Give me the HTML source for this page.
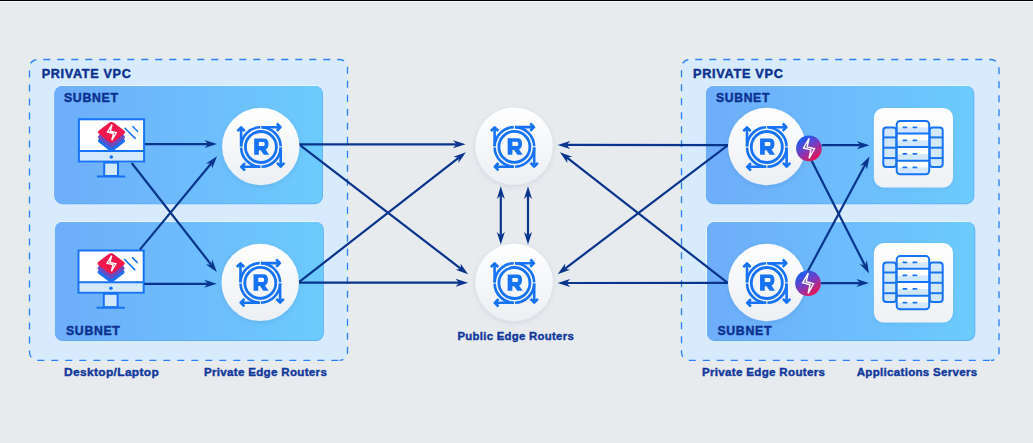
<!DOCTYPE html>
<html><head><meta charset="utf-8"><title>Network diagram</title>
<style>html,body{margin:0;padding:0;width:1033px;height:443px;overflow:hidden;background:#e7ebee;font-family:"Liberation Sans",sans-serif;}</style>
</head><body>
<svg width="1033" height="443" viewBox="0 0 1033 443" style="display:block">
<defs>
<linearGradient id="sg" x1="0" y1="0" x2="1" y2="0"><stop offset="0" stop-color="#6eadfa"/><stop offset="1" stop-color="#6ccbfd"/></linearGradient>
<linearGradient id="rg" x1="0" y1="0" x2="0" y2="1"><stop offset="0" stop-color="#ffffff"/><stop offset="1" stop-color="#eceff3"/></linearGradient>
<linearGradient id="cg" x1="0" y1="0" x2="0" y2="1"><stop offset="0" stop-color="#ffffff"/><stop offset="1" stop-color="#eef1f5"/></linearGradient>
<linearGradient id="bg" x1="0.2" y1="0.05" x2="0.8" y2="0.95"><stop offset="0" stop-color="#0e60f8"/><stop offset="0.5" stop-color="#7b3bbd"/><stop offset="1" stop-color="#f4104a"/></linearGradient>
<filter id="sh" x="-30%" y="-30%" width="160%" height="160%"><feDropShadow dx="0" dy="1.5" stdDeviation="2.5" flood-color="#1d3b66" flood-opacity="0.10"/></filter>
<filter id="sh2" x="-30%" y="-30%" width="160%" height="160%"><feDropShadow dx="0" dy="1" stdDeviation="2" flood-color="#1d3b66" flood-opacity="0.08"/></filter>
<g id="ricon">
<path d="M0.6,-19.79 A19.8,19.8 0 0 1 19.79,-0.6 M19.79,0.6 A19.8,19.8 0 0 1 0.6,19.79 M-0.6,19.79 A19.8,19.8 0 0 1 -19.79,0.6 M-19.79,-0.6 A19.8,19.8 0 0 1 -0.6,-19.79" fill="none" stroke="#1673f5" stroke-width="2.6"/>
<circle cx="0" cy="0" r="15.5" fill="none" stroke="#1673f5" stroke-width="2.8"/>
<g stroke="#1673f5" stroke-width="2.6" fill="none" stroke-linejoin="round" stroke-linecap="butt">
<path d="M-19.8,-0.6 V-19.8 M-23.5,-15.9 L-19.8,-19.6 L-16.1,-15.9"/>
<path d="M0.6,-19.8 H19.8 M15.9,-23.5 L19.6,-19.8 L15.9,-16.1"/>
<path d="M19.8,0.6 V19.8 M23.5,15.9 L19.8,19.6 L16.1,15.9"/>
<path d="M-0.6,19.8 H-19.8 M-15.9,23.5 L-19.6,19.8 L-15.9,16.1"/>
</g>
<path fill="#1673f5" fill-rule="evenodd" d="M-6.74,-8.6 L2.95,-8.6 Q7.64,-8.6 7.64,-3.32 Q7.64,1.08 4.7,2.55 L8.23,7.83 L2.95,7.83 L-0.28,3.14 L-2.04,3.14 L-2.04,7.83 L-6.74,7.83 Z M-2.04,-5.08 L2.65,-5.08 Q3.83,-5.08 3.83,-3.02 Q3.83,-0.97 2.65,-0.97 L-2.04,-0.97 Z"/>
</g>
</defs>
<rect width="1033" height="443" fill="#e7ebee"/>
<rect x="0" y="0" width="1033" height="1" fill="#000"/>
<rect x="0" y="1" width="1033" height="1" fill="#f5f9fc"/>
<rect x="29.5" y="59.5" width="318" height="300.8" rx="8" fill="#d8ebfe"/>
<path d="M29.5,67.5 A8,8 0 0 1 37.5,59.5 H339.5 A8,8 0 0 1 347.5,67.5 V352.3 A8,8 0 0 1 339.5,360.3" fill="none" stroke="#2a80f4" stroke-width="1.35" stroke-dasharray="7 7" stroke-dashoffset="9.73"/>
<path d="M339.5,360.3 H37.5 A8,8 0 0 1 29.5,352.3 V67.5" fill="none" stroke="#2a80f4" stroke-width="1.35" stroke-dasharray="7 7" stroke-dashoffset="12.8"/>
<rect x="681.5" y="59.5" width="317.5" height="300.9" rx="8" fill="#d8ebfe"/>
<path d="M681.5,67.5 A8,8 0 0 1 689.5,59.5 H991 A8,8 0 0 1 999,67.5 V352.4 A8,8 0 0 1 991,360.4" fill="none" stroke="#2a80f4" stroke-width="1.35" stroke-dasharray="7 7" stroke-dashoffset="9.73"/>
<path d="M991,360.4 H689.5 A8,8 0 0 1 681.5,352.4 V67.5" fill="none" stroke="#2a80f4" stroke-width="1.35" stroke-dasharray="7 7" stroke-dashoffset="12.8"/>
<rect x="53.7" y="85.2" width="268.5" height="118.3" rx="8.5" fill="#f2f8ff" opacity="0.9"/>
<rect x="54.4" y="85.9" width="268.5" height="118.3" rx="8" fill="#5aa6f4"/>
<rect x="54.4" y="85.9" width="267.8" height="117.6" rx="7.6" fill="url(#sg)"/>
<rect x="54.2" y="221.2" width="268.9" height="119.1" rx="8.5" fill="#f2f8ff" opacity="0.9"/>
<rect x="54.9" y="221.9" width="268.9" height="119.1" rx="8" fill="#5aa6f4"/>
<rect x="54.9" y="221.9" width="268.2" height="118.4" rx="7.6" fill="url(#sg)"/>
<rect x="705.2" y="85.2" width="268.4" height="118.3" rx="8.5" fill="#f2f8ff" opacity="0.9"/>
<rect x="705.9" y="85.9" width="268.4" height="118.3" rx="8" fill="#5aa6f4"/>
<rect x="705.9" y="85.9" width="267.7" height="117.6" rx="7.6" fill="url(#sg)"/>
<rect x="706.3" y="221.2" width="268.3" height="119.1" rx="8.5" fill="#f2f8ff" opacity="0.9"/>
<rect x="707" y="221.9" width="268.3" height="119.1" rx="8" fill="#5aa6f4"/>
<rect x="707" y="221.9" width="267.6" height="118.4" rx="7.6" fill="url(#sg)"/>

<g font-family="Liberation Sans, sans-serif">
<text letter-spacing="0.7" x="41.7" y="78.1" font-size="12.6" fill="#0b3190" stroke="#0b3190" stroke-width="0.45" font-weight="bold" textLength="89.8" lengthAdjust="spacingAndGlyphs">PRIVATE VPC</text>
<text letter-spacing="0.7" x="64" y="101.5" font-size="12.6" fill="#0b3190" stroke="#0b3190" stroke-width="0.45" font-weight="bold" textLength="54.6" lengthAdjust="spacingAndGlyphs">SUBNET</text>
<text letter-spacing="0.7" x="66" y="335.2" font-size="12.6" fill="#0b3190" stroke="#0b3190" stroke-width="0.45" font-weight="bold" textLength="54.5" lengthAdjust="spacingAndGlyphs">SUBNET</text>
<text letter-spacing="0.7" x="693.1" y="78.1" font-size="12.6" fill="#0b3190" stroke="#0b3190" stroke-width="0.45" font-weight="bold" textLength="90.4" lengthAdjust="spacingAndGlyphs">PRIVATE VPC</text>
<text letter-spacing="0.7" x="716" y="101.5" font-size="12.6" fill="#0b3190" stroke="#0b3190" stroke-width="0.45" font-weight="bold" textLength="54" lengthAdjust="spacingAndGlyphs">SUBNET</text>
<text letter-spacing="0.7" x="717.4" y="335" font-size="12.6" fill="#0b3190" stroke="#0b3190" stroke-width="0.45" font-weight="bold" textLength="54.7" lengthAdjust="spacingAndGlyphs">SUBNET</text>
<text letter-spacing="0.3" x="64.1" y="375.7" font-size="11.2" fill="#11389b" stroke="#11389b" stroke-width="0.4" font-weight="bold" textLength="95" lengthAdjust="spacingAndGlyphs">Desktop/Laptop</text>
<text letter-spacing="0.3" x="203.9" y="375.9" font-size="11.2" fill="#11389b" stroke="#11389b" stroke-width="0.4" font-weight="bold" textLength="123.3" lengthAdjust="spacingAndGlyphs">Private Edge Routers</text>
<text letter-spacing="0.3" x="457.5" y="339.6" font-size="11.2" fill="#11389b" stroke="#11389b" stroke-width="0.4" font-weight="bold" textLength="116.5" lengthAdjust="spacingAndGlyphs">Public Edge Routers</text>
<text letter-spacing="0.3" x="701.9" y="375.7" font-size="11.2" fill="#11389b" stroke="#11389b" stroke-width="0.4" font-weight="bold" textLength="123.4" lengthAdjust="spacingAndGlyphs">Private Edge Routers</text>
<text letter-spacing="0.3" x="856.7" y="375.7" font-size="11.2" fill="#11389b" stroke="#11389b" stroke-width="0.4" font-weight="bold" textLength="120.9" lengthAdjust="spacingAndGlyphs">Applications Servers</text>
</g>
<g>
<rect x="78.9" y="119.3" width="65.2" height="42.3" fill="#fff"/>
<rect x="78.9" y="151" width="65.2" height="11.6" fill="#d4e8fd"/>
<g transform="translate(111.5,140.2)">
<g transform="translate(0,0.6)"><path d="M2.68,-9.35 L12.22,-2.05 Q14.9,0 12.22,2.05 L2.68,9.35 Q0,11.4 -2.68,9.35 L-12.22,2.05 Q-14.9,0 -12.22,-2.05 L-2.68,-9.35 Q0,-11.4 2.68,-9.35 Z" fill="#1b6ff0"/></g>
<g transform="translate(0,-3.2)"><path d="M2.68,-9.35 L12.22,-2.05 Q14.9,0 12.22,2.05 L2.68,9.35 Q0,11.4 -2.68,9.35 L-12.22,2.05 Q-14.9,0 -12.22,-2.05 L-2.68,-9.35 Q0,-11.4 2.68,-9.35 Z" fill="#6a4bc1"/></g>
<g transform="translate(0,-7.9)"><path d="M2.68,-9.35 L12.22,-2.05 Q14.9,0 12.22,2.05 L2.68,9.35 Q0,11.4 -2.68,9.35 L-12.22,2.05 Q-14.9,0 -12.22,-2.05 L-2.68,-9.35 Q0,-11.4 2.68,-9.35 Z" fill="#f0174c"/>
<path d="M0.3,-10.1 L-5.4,-0.4 L2.0,1.5 L0.1,10.1 L5.6,0.4 L-1.8,-1.5 Z" transform="translate(0.3,0) scale(0.8,0.77)" fill="none" stroke="#fff" stroke-width="1.8"/></g>
</g>
<rect x="78.9" y="119.3" width="65.2" height="42.3" fill="none" stroke="#1673f5" stroke-width="2"/>
<line x1="78.9" y1="151" x2="144.1" y2="151" stroke="#1673f5" stroke-width="2"/>
<circle cx="111.3" cy="157" r="1.8" fill="#1673f5"/>
<rect x="104.2" y="162.6" width="13.8" height="13.4" fill="#d4e8fd" stroke="#1673f5" stroke-width="2"/>
<line x1="96.9" y1="176.5" x2="125.3" y2="176.5" stroke="#1673f5" stroke-width="2"/>
<line x1="124.6" y1="127.8" x2="135.6" y2="138.9" stroke="#1673f5" stroke-width="1.5"/>
<line x1="132.5" y1="126.2" x2="138" y2="131.7" stroke="#1673f5" stroke-width="1.5"/>
</g>
<g>
<rect x="78.5" y="250.5" width="65.2" height="42.3" fill="#fff"/>
<rect x="78.5" y="282.2" width="65.2" height="11.6" fill="#d4e8fd"/>
<g transform="translate(111.1,271.4)">
<g transform="translate(0,0.6)"><path d="M2.68,-9.35 L12.22,-2.05 Q14.9,0 12.22,2.05 L2.68,9.35 Q0,11.4 -2.68,9.35 L-12.22,2.05 Q-14.9,0 -12.22,-2.05 L-2.68,-9.35 Q0,-11.4 2.68,-9.35 Z" fill="#1b6ff0"/></g>
<g transform="translate(0,-3.2)"><path d="M2.68,-9.35 L12.22,-2.05 Q14.9,0 12.22,2.05 L2.68,9.35 Q0,11.4 -2.68,9.35 L-12.22,2.05 Q-14.9,0 -12.22,-2.05 L-2.68,-9.35 Q0,-11.4 2.68,-9.35 Z" fill="#6a4bc1"/></g>
<g transform="translate(0,-7.9)"><path d="M2.68,-9.35 L12.22,-2.05 Q14.9,0 12.22,2.05 L2.68,9.35 Q0,11.4 -2.68,9.35 L-12.22,2.05 Q-14.9,0 -12.22,-2.05 L-2.68,-9.35 Q0,-11.4 2.68,-9.35 Z" fill="#f0174c"/>
<path d="M0.3,-10.1 L-5.4,-0.4 L2.0,1.5 L0.1,10.1 L5.6,0.4 L-1.8,-1.5 Z" transform="translate(0.3,0) scale(0.8,0.77)" fill="none" stroke="#fff" stroke-width="1.8"/></g>
</g>
<rect x="78.5" y="250.5" width="65.2" height="42.3" fill="none" stroke="#1673f5" stroke-width="2"/>
<line x1="78.5" y1="282.2" x2="143.7" y2="282.2" stroke="#1673f5" stroke-width="2"/>
<circle cx="110.9" cy="288.2" r="1.8" fill="#1673f5"/>
<rect x="103.8" y="293.8" width="13.8" height="13.4" fill="#d4e8fd" stroke="#1673f5" stroke-width="2"/>
<line x1="96.5" y1="307.7" x2="124.9" y2="307.7" stroke="#1673f5" stroke-width="2"/>
<line x1="124.2" y1="259" x2="135.2" y2="270.1" stroke="#1673f5" stroke-width="1.5"/>
<line x1="132.1" y1="257.4" x2="137.6" y2="262.9" stroke="#1673f5" stroke-width="1.5"/>
</g>
<g stroke="#09348d" stroke-width="2.2" fill="#09348d">
<line x1="145" y1="144.1" x2="208.1" y2="144.1"/>
<path stroke="none" d="M217.1,144.1 L204.5,148.1 L208.1,144.1 L204.5,140.1 Z"/>
<line x1="131.7" y1="163" x2="211.26" y2="264.81"/>
<path stroke="none" d="M216.8,271.9 L205.89,264.43 L211.26,264.81 L212.19,259.51 Z"/>
<line x1="144.3" y1="283.8" x2="207.8" y2="283.8"/>
<path stroke="none" d="M216.8,283.8 L204.2,287.8 L207.8,283.8 L204.2,279.8 Z"/>
<line x1="139.9" y1="249.6" x2="211.36" y2="163.23"/>
<path stroke="none" d="M217.1,156.3 L212.15,168.56 L211.36,163.23 L205.99,163.46 Z"/>
<line x1="299" y1="144.4" x2="456.6" y2="144.31"/>
<path stroke="none" d="M465.6,144.3 L453,148.31 L456.6,144.31 L453,140.31 Z"/>
<line x1="299" y1="144.4" x2="460.96" y2="268.82"/>
<path stroke="none" d="M468.1,274.3 L455.67,269.8 L460.96,268.82 L460.54,263.45 Z"/>
<line x1="299" y1="282.6" x2="459.1" y2="282.69"/>
<path stroke="none" d="M468.1,282.7 L455.5,286.69 L459.1,282.69 L455.5,278.69 Z"/>
<line x1="299" y1="282.1" x2="458.8" y2="157.73"/>
<path stroke="none" d="M465.9,152.2 L458.41,163.1 L458.8,157.73 L453.5,156.78 Z"/>
<line x1="728" y1="145.1" x2="566.6" y2="144.91"/>
<path stroke="none" d="M557.6,144.9 L570.2,140.91 L566.6,144.91 L570.2,148.91 Z"/>
<line x1="728" y1="145.1" x2="564.77" y2="268.86"/>
<path stroke="none" d="M557.6,274.3 L565.22,263.5 L564.77,268.86 L570.06,269.87 Z"/>
<line x1="727.7" y1="282.9" x2="566.6" y2="282.99"/>
<path stroke="none" d="M557.6,283 L570.2,278.99 L566.6,282.99 L570.2,286.99 Z"/>
<line x1="727.7" y1="282.9" x2="567" y2="157.73"/>
<path stroke="none" d="M559.9,152.2 L572.3,156.79 L567,157.73 L567.38,163.1 Z"/>
<line x1="821.7" y1="145.2" x2="860.5" y2="145.2"/>
<path stroke="none" d="M869.5,145.2 L856.9,149.2 L860.5,145.2 L856.9,141.2 Z"/>
<line x1="804.4" y1="146.5" x2="864.92" y2="265.38"/>
<path stroke="none" d="M869,273.4 L859.72,263.99 L864.92,265.38 L866.85,260.36 Z"/>
<line x1="820.7" y1="283.1" x2="860" y2="283.1"/>
<path stroke="none" d="M869,283.1 L856.4,287.1 L860,283.1 L856.4,279.1 Z"/>
<line x1="801.3" y1="283.2" x2="865.23" y2="164.52"/>
<path stroke="none" d="M869.5,156.6 L867.05,169.59 L865.23,164.52 L860,165.8 Z"/>
<path stroke="none" d="M500.8,186.3 L504.8,198.9 L500.8,195.3 L496.8,198.9 Z"/>
<line x1="500.8" y1="195.3" x2="500.8" y2="235.5"/>
<path stroke="none" d="M500.8,244.5 L496.8,231.9 L500.8,235.5 L504.8,231.9 Z"/>
<path stroke="none" d="M528,186.3 L532,198.9 L528,195.3 L524,198.9 Z"/>
<line x1="528" y1="195.3" x2="528" y2="235.5"/>
<path stroke="none" d="M528,244.5 L524,231.9 L528,235.5 L532,231.9 Z"/>
</g>
<circle cx="260.8" cy="146.5" r="38.7" fill="url(#rg)" filter="url(#sh)"/>
<use href="#ricon" transform="translate(260.9,147)"/>
<circle cx="260.2" cy="282.4" r="38.7" fill="url(#rg)" filter="url(#sh)"/>
<use href="#ricon" transform="translate(260.3,282.9)"/>
<circle cx="514.1" cy="146.3" r="38.7" fill="url(#rg)" filter="url(#sh)"/>
<use href="#ricon" transform="translate(514.4,146.9)"/>
<circle cx="514.1" cy="282.5" r="38.7" fill="url(#rg)" filter="url(#sh)"/>
<use href="#ricon" transform="translate(514.4,283)"/>
<circle cx="766.8" cy="146.5" r="38.7" fill="url(#rg)" filter="url(#sh)"/>
<use href="#ricon" transform="translate(766.8,147)"/>
<circle cx="766.8" cy="282.5" r="38.7" fill="url(#rg)" filter="url(#sh)"/>
<use href="#ricon" transform="translate(766.8,283)"/>
<rect x="873.9" y="107.9" width="79.1" height="79.6" rx="10" fill="url(#cg)" filter="url(#sh2)"/>
<rect x="883.3" y="127.4" width="13" height="39.6" rx="3" fill="#d4e8fd" stroke="#1673f5" stroke-width="2"/>
<line x1="883.3" y1="137.4" x2="896.3" y2="137.4" stroke="#1673f5" stroke-width="2"/>
<line x1="883.3" y1="147.7" x2="896.3" y2="147.7" stroke="#1673f5" stroke-width="2"/>
<line x1="883.3" y1="158.1" x2="896.3" y2="158.1" stroke="#1673f5" stroke-width="2"/>
<rect x="929.7" y="127.4" width="13" height="39.6" rx="3" fill="#d4e8fd" stroke="#1673f5" stroke-width="2"/>
<line x1="929.7" y1="137.4" x2="942.7" y2="137.4" stroke="#1673f5" stroke-width="2"/>
<line x1="929.7" y1="147.7" x2="942.7" y2="147.7" stroke="#1673f5" stroke-width="2"/>
<line x1="929.7" y1="158.1" x2="942.7" y2="158.1" stroke="#1673f5" stroke-width="2"/>
<rect x="896.7" y="121" width="32.5" height="53.2" rx="3.5" fill="#fff"/>
<rect x="896.7" y="127.3" width="32.5" height="6.3" fill="#d4e8fd"/>
<path d="M903.3,127.3 H906.5 M913.3,127.3 H916.5" stroke="#1673f5" stroke-width="1.7" stroke-linecap="round"/>
<rect x="896.7" y="140.3" width="32.5" height="6.7" fill="#d4e8fd"/>
<path d="M903.3,140.3 H906.5 M913.3,140.3 H916.5" stroke="#1673f5" stroke-width="1.7" stroke-linecap="round"/>
<rect x="896.7" y="153.85" width="32.5" height="6.85" fill="#d4e8fd"/>
<path d="M903.3,153.85 H906.5 M913.3,153.85 H916.5" stroke="#1673f5" stroke-width="1.7" stroke-linecap="round"/>
<rect x="896.7" y="167.45" width="32.5" height="6.75" fill="#d4e8fd"/>
<path d="M903.3,167.45 H906.5 M913.3,167.45 H916.5" stroke="#1673f5" stroke-width="1.7" stroke-linecap="round"/>
<rect x="896.7" y="121" width="32.5" height="53.2" rx="3.5" fill="none" stroke="#1673f5" stroke-width="2"/>
<line x1="896.7" y1="133.6" x2="929.2" y2="133.6" stroke="#1673f5" stroke-width="2"/>
<line x1="896.7" y1="147" x2="929.2" y2="147" stroke="#1673f5" stroke-width="2"/>
<line x1="896.7" y1="160.7" x2="929.2" y2="160.7" stroke="#1673f5" stroke-width="2"/>
<rect x="873.9" y="243" width="79.1" height="79.6" rx="10" fill="url(#cg)" filter="url(#sh2)"/>
<rect x="883.3" y="262.5" width="13" height="39.6" rx="3" fill="#d4e8fd" stroke="#1673f5" stroke-width="2"/>
<line x1="883.3" y1="272.5" x2="896.3" y2="272.5" stroke="#1673f5" stroke-width="2"/>
<line x1="883.3" y1="282.8" x2="896.3" y2="282.8" stroke="#1673f5" stroke-width="2"/>
<line x1="883.3" y1="293.2" x2="896.3" y2="293.2" stroke="#1673f5" stroke-width="2"/>
<rect x="929.7" y="262.5" width="13" height="39.6" rx="3" fill="#d4e8fd" stroke="#1673f5" stroke-width="2"/>
<line x1="929.7" y1="272.5" x2="942.7" y2="272.5" stroke="#1673f5" stroke-width="2"/>
<line x1="929.7" y1="282.8" x2="942.7" y2="282.8" stroke="#1673f5" stroke-width="2"/>
<line x1="929.7" y1="293.2" x2="942.7" y2="293.2" stroke="#1673f5" stroke-width="2"/>
<rect x="896.7" y="256.1" width="32.5" height="53.2" rx="3.5" fill="#fff"/>
<rect x="896.7" y="262.4" width="32.5" height="6.3" fill="#d4e8fd"/>
<path d="M903.3,262.4 H906.5 M913.3,262.4 H916.5" stroke="#1673f5" stroke-width="1.7" stroke-linecap="round"/>
<rect x="896.7" y="275.4" width="32.5" height="6.7" fill="#d4e8fd"/>
<path d="M903.3,275.4 H906.5 M913.3,275.4 H916.5" stroke="#1673f5" stroke-width="1.7" stroke-linecap="round"/>
<rect x="896.7" y="288.95" width="32.5" height="6.85" fill="#d4e8fd"/>
<path d="M903.3,288.95 H906.5 M913.3,288.95 H916.5" stroke="#1673f5" stroke-width="1.7" stroke-linecap="round"/>
<rect x="896.7" y="302.55" width="32.5" height="6.75" fill="#d4e8fd"/>
<path d="M903.3,302.55 H906.5 M913.3,302.55 H916.5" stroke="#1673f5" stroke-width="1.7" stroke-linecap="round"/>
<rect x="896.7" y="256.1" width="32.5" height="53.2" rx="3.5" fill="none" stroke="#1673f5" stroke-width="2"/>
<line x1="896.7" y1="268.7" x2="929.2" y2="268.7" stroke="#1673f5" stroke-width="2"/>
<line x1="896.7" y1="282.1" x2="929.2" y2="282.1" stroke="#1673f5" stroke-width="2"/>
<line x1="896.7" y1="295.8" x2="929.2" y2="295.8" stroke="#1673f5" stroke-width="2"/>
<circle cx="808.9" cy="148.4" r="12.8" fill="url(#bg)"/>
<path d="M0.3,-10.1 L-5.4,-0.4 L2.0,1.5 L0.1,10.1 L5.6,0.4 L-1.8,-1.5 Z" transform="translate(808.9,148.4)" fill="none" stroke="#fff" stroke-width="1.4"/>
<circle cx="808" cy="283.2" r="12.8" fill="url(#bg)"/>
<path d="M0.3,-10.1 L-5.4,-0.4 L2.0,1.5 L0.1,10.1 L5.6,0.4 L-1.8,-1.5 Z" transform="translate(808,283.2)" fill="none" stroke="#fff" stroke-width="1.4"/>
</svg>
</body></html>
